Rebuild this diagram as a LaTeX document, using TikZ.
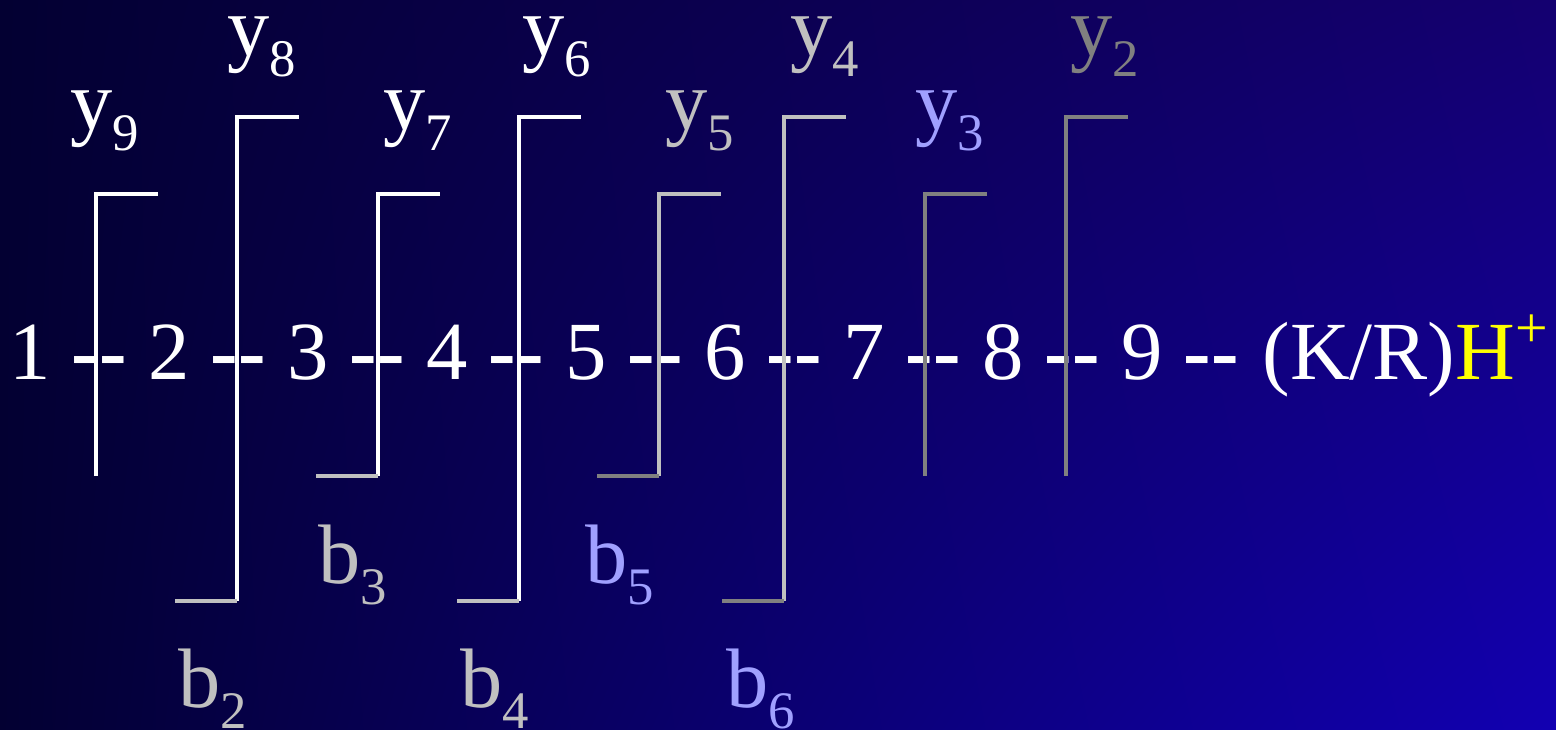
\documentclass[tikz,border=0pt]{standalone}
\usepackage{fontspec}
\setmainfont{Liberation Serif}
\usetikzlibrary{positioning,shadings}
\definecolor{NavyDark}{RGB}{3,0,50}
\definecolor{NavyMid}{RGB}{20,0,112}
\definecolor{RoyalBlue}{RGB}{18,0,178}
\definecolor{IonGray}{RGB}{192,192,192}
\definecolor{IonDark}{RGB}{128,128,128}
\definecolor{IonBlue}{RGB}{160,160,255}
\definecolor{IonYellow}{RGB}{255,255,0}
\newcommand{\ionsub}[2]{#1\raisebox{-6pt}{\fontsize{15}{15}\selectfont #2}}

\begin{document}
\begin{tikzpicture}[x=0.01cm,y=-0.01cm,
    resid/.style={text=white,font=\fontsize{23.5}{28}\selectfont,inner sep=0pt,anchor=base},
    ionlab/.style={font=\fontsize{24}{28}\selectfont,inner sep=0pt,anchor=base west},
    frag/.style={line width=0.95pt}]
  \shade[shading=bilinear interpolation,upper left=NavyDark,lower left=NavyDark,
    upper right=NavyMid,lower right=RoyalBlue]
    (0,0) rectangle (1556,730);
  \useasboundingbox (0,0) rectangle (1556,730);
  % peptide
  \foreach \i in {1,...,9}
    \node[resid] (r\i) at ({30+139*(\i-1)},379) {\i};
  \foreach \i in {1,...,9}
    \node[resid] (d\i) at ({99.5+139*(\i-1)},379) {\bfseries -{}-};
  \node[resid,anchor=base west] (cterm) at (1262,379) {(K/R)\textcolor{IonYellow}{H\textsuperscript{+}}};
  % y brackets
  \foreach \x/\t/\b/\c in {96/194/476/white, 237/117/601/white, 378/194/476/white,
      519/117/601/white, 659/194/476/IonGray, 784/117/601/IonGray,
      925/194/476/IonDark, 1066/117/476/IonDark}
    \draw[frag,\c] (\x,\b) -- (\x,\t) -- ++(62,0);
  % b brackets
  \foreach \x/\b/\c in {237/601/IonGray, 378/476/IonGray, 519/601/IonGray,
      659/476/IonDark, 784/601/IonDark}
    \draw[frag,\c] (\x,\b) -- ++(-62,0);
  % labels
  \foreach \x/\by/\n/\c in {70/129/9/white, 227/55/8/white, 383/129/7/white,
      522/55/6/white, 665/129/5/IonGray, 790/55/4/IonGray,
      915/129/3/IonBlue, 1070/55/2/IonDark}
    \node[ionlab,text=\c] (y\n) at (\x,\by) {\ionsub{y}{\n}};
  \foreach \x/\by/\n/\c in {178/707/2/IonGray, 318/583/3/IonGray, 460/707/4/IonGray,
      585/583/5/IonBlue, 726/707/6/IonBlue}
    \node[ionlab,text=\c] (b\n) at (\x,\by) {\ionsub{b}{\n}};
\end{tikzpicture}
\end{document}
